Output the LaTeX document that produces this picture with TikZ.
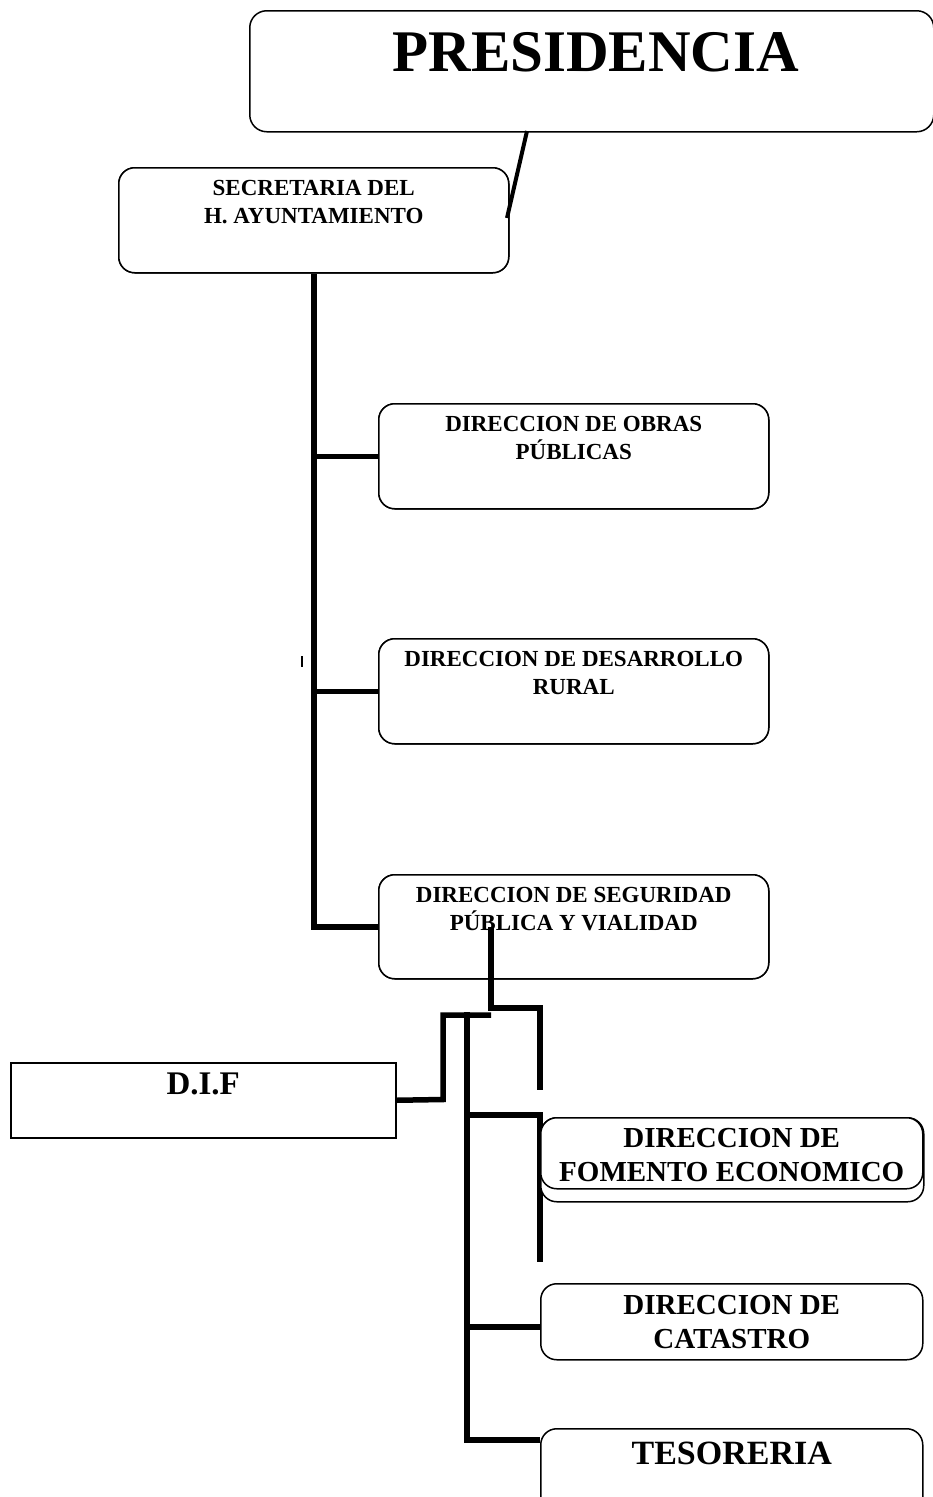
\documentclass[tikz,border=0pt]{standalone}
\usepackage{fontspec}
\setmainfont{Liberation Serif}
\usetikzlibrary{calc}
\tikzset{
  rbox/.style={draw, line width=1.5pt, rounded corners=16pt, fill=white, inner sep=0pt, anchor=north west},
  sbox/.style={draw, line width=1.5pt, fill=white, inner sep=0pt, anchor=north west},
  lbl/.style={anchor=north, inner sep=0pt, align=center, font=\bfseries\fontsize{23}{28}\selectfont},
  lblb/.style={anchor=north, inner sep=0pt, align=center, font=\bfseries\fontsize{29}{34.5}\selectfont},
  conn/.style={line width=5.5pt, line join=miter},
  thin conn/.style={line width=4pt}
}
\begin{document}
\begin{tikzpicture}[x=1pt,y=1pt]
\useasboundingbox (0,0) rectangle (933,-1497);
\fill[white] (0,0) rectangle (933,-1497);

% coordinates for connectors
\coordinate (pc) at (527,-131);
\coordinate (sc) at (507,-218);

% main trunk
\node[rbox, minimum width=390pt, minimum height=105pt] (secr) at (118,-167) {};
\node[rbox, minimum width=390pt, minimum height=105pt] (obras) at (378,-403) {};
\node[rbox, minimum width=390pt, minimum height=105pt] (desa) at (378,-638) {};
\node[rbox, minimum width=390pt, minimum height=104pt] (segu) at (378,-874) {};

\draw[conn] (secr.south) |- (segu.west);
\draw[conn] (secr.south |- obras.west) -- (obras.west);
\draw[conn] (secr.south |- desa.west) -- (desa.west);

% redraw boxes on top of lines
\node[rbox, minimum width=390pt, minimum height=105pt] at (118,-167) {};
\node[rbox, minimum width=390pt, minimum height=105pt] at (378,-403) {};
\node[rbox, minimum width=390pt, minimum height=105pt] at (378,-638) {};
\node[rbox, minimum width=390pt, minimum height=104pt] at (378,-874) {};

% presidencia
\node[rbox, rounded corners=17pt, minimum width=684pt, minimum height=121pt] (pres) at (249,-10) {};
\node[anchor=north, inner sep=0pt, font=\bfseries\fontsize{59}{66}\selectfont] (presT) at ($(pres.north)+(4,-22)$) {PRESIDENCIA};
\draw[thin conn] (pc) -- (sc);

% texts
\node[lbl] (secrT) at ($(secr.north)+(0,-13)$) {SECRETARIA DEL\\H. AYUNTAMIENTO};
\node[lbl] (obrasT) at ($(obras.north)+(0,-13)$) {DIRECCION DE OBRAS\\PÚBLICAS};
\node[lbl] (desaT) at ($(desa.north)+(0,-13)$) {DIRECCION DE DESARROLLO\\RURAL};
\node[lbl] (seguT) at ($(segu.north)+(0,-13)$) {DIRECCION DE SEGURIDAD\\PÚBLICA Y VIALIDAD};

% small tick
\coordinate (tA) at (302,-656);
\coordinate (tB) at (302,-667);
\draw[line width=1.4pt] (tA) -- (tB);

% lower boxes
\node[sbox, minimum width=385pt, minimum height=75pt] (dif) at (10,-1062) {};
\node[anchor=north, inner sep=0pt, font=\bfseries\fontsize{33}{40}\selectfont] (difT) at ($(dif.north)+(0,-11)$) {D.I.F};

% lower connectors
\coordinate (s1) at (491,-927);
\coordinate (s2) at (491,-1008);
\coordinate (s3) at (540,-1008);
\coordinate (s4) at (540,-1090);
\coordinate (l1) at (491,-1015);
\coordinate (l2) at (443,-1015);
\coordinate (l3) at (443,-1099.5);
\coordinate (c1) at (467,-1012);
\coordinate (c2) at (467,-1440);
\coordinate (b1) at (467,-1115);
\coordinate (b2) at (540,-1115);
\coordinate (b3) at (540,-1262);
\coordinate (k1) at (467,-1327);
\coordinate (k2) at (540,-1327);
\coordinate (t2) at (540,-1440);

\draw[conn] (s1) -- (s2) -- (s3) -- (s4);
\draw[conn] (l1) -- (l2) -- (l3) -- (dif.east);
\draw[conn] (c1) -- (c2) -- (t2);
\draw[conn] (b1) -- (b2) -- (b3);
\draw[conn] (k1) -- (k2);

% fomento (with box behind)
\node[rbox, minimum width=383pt, minimum height=84pt] (ganad) at (540,-1117) {};
\node[rbox, minimum width=382pt, minimum height=71pt] (fome) at (540,-1117) {};
\node[lblb] (fomeT) at ($(fome.north)+(0,-11)$) {DIRECCION DE\\FOMENTO ECONOMICO};

\node[rbox, minimum width=382pt, minimum height=76pt] (cata) at (540,-1283) {};
\node[lblb] (cataT) at ($(cata.north)+(0,-12)$) {DIRECCION DE\\CATASTRO};

\node[rbox, minimum width=382pt, minimum height=90pt] (teso) at (540,-1428) {};
\node[anchor=north, inner sep=0pt, font=\bfseries\fontsize{34}{40}\selectfont] (tesoT) at ($(teso.north)+(0,-14)$) {TESORERIA};
\end{tikzpicture}
\end{document}
